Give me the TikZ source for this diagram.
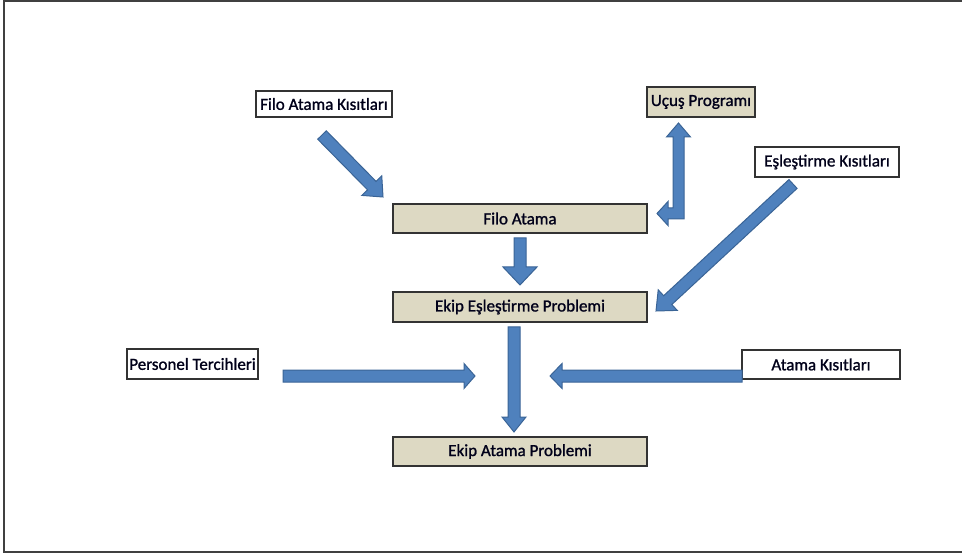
\documentclass[tikz,border=0pt]{standalone}
\usepackage{fontspec}
\setmainfont{Carlito}
\newfontfamily\boxfont[FakeBold=1.2]{Carlito}
\usetikzlibrary{calc}
\definecolor{arrfill}{HTML}{4F81BD}
\definecolor{arrline}{HTML}{3A6496}
\definecolor{boxtan}{HTML}{DDD9C3}
\tikzset{
 plainbox/.style={draw=black!80, line width=1.2pt, fill=white, inner sep=0pt,
   font=\boxfont\fontsize{17}{20}\selectfont, text=black!90!blue},
 tanbox/.style={plainbox, fill=boxtan},
 blk/.style={fill=arrfill, draw=arrline, line width=1pt, line join=miter},
 frameline/.style={draw=black!75, line width=1.2pt},
}
% from, to, shaft half width, head half width, head length
\newcommand\blkarrow[5]{%
 \coordinate (bh) at ($(#2)!#5!(#1)$);
 \filldraw[blk] ($(#1)!#3!90:(#2)$) -- ($(bh)!#3!90:(#2)$) -- ($(bh)!#4!90:(#2)$)
   -- (#2) -- ($(bh)!#4!-90:(#2)$) -- ($(bh)!#3!-90:(#2)$) -- ($(#1)!#3!-90:(#2)$) -- cycle;
}
\begin{document}
\begin{tikzpicture}[x=1pt,y=-1pt]
\useasboundingbox (0,0) rectangle (962,556);
\draw[frameline] (962,1) -- (4,1) -- (4,552) -- (962,552);

\node[plainbox, minimum width=136pt, minimum height=26pt] (fak) at (324,104) {Filo Atama Kısıtları};
\node[tanbox, minimum width=108pt, minimum height=30pt] (ucus) at (701,102) {Uçuş Programı};
\node[plainbox, minimum width=144pt, minimum height=30pt] (esk) at (827,162) {Eşleştirme Kısıtları};
\node[tanbox, minimum width=254pt, minimum height=29pt] (filo) at (520,218.5) {Filo Atama};
\node[tanbox, minimum width=254pt, minimum height=30pt] (eep) at (520,307) {Ekip Eşleştirme Problemi};
\node[plainbox, minimum width=131pt, minimum height=30pt] (pt) at (192.5,364) {Personel Tercihleri};
\node[plainbox, minimum width=158pt, minimum height=29pt] (ak) at (821,364.5) {Atama Kısıtları};
\node[tanbox, minimum width=254pt, minimum height=29pt] (eap) at (520,451.5) {Ekip Atama Problemi};

% arrow end points
\coordinate (a1s) at (322,135);  \coordinate (a1e) at (383,197);
\coordinate (a3s) at (793,184);  \coordinate (a3e) at (656,311);
\coordinate (a4s) at (520,238);  \coordinate (a4e) at (520,285);
\coordinate (a5s) at (514,327);  \coordinate (a5e) at (514,432);
\coordinate (a6s) at (283,376);  \coordinate (a6e) at (475,376);
\coordinate (a7s) at (742,376);  \coordinate (a7e) at (550,376);

\blkarrow{a1s}{a1e}{6pt}{14pt}{16pt}
\blkarrow{a3s}{a3e}{6pt}{14pt}{16pt}
\blkarrow{a4s}{a4e}{6pt}{17pt}{18pt}
\blkarrow{a5s}{a5e}{6pt}{12pt}{15pt}
\blkarrow{a6s}{a6e}{6pt}{12.5pt}{11pt}
\blkarrow{a7s}{a7e}{6pt}{12.5pt}{12pt}

% bent double arrow between Filo Atama and Uçuş Programı
\filldraw[blk] (684,137) -- (690.5,137) -- (678.5,123) -- (666.5,137) -- (673,137)
  -- (673,208) -- (668,208) -- (668,201.5) -- (657,213.5) -- (668,225.5)
  -- (668,219) -- (684,219) -- cycle;
\end{tikzpicture}
\end{document}
